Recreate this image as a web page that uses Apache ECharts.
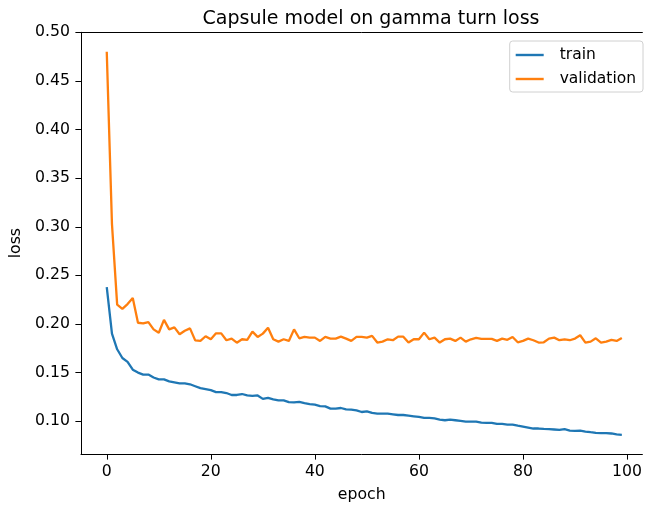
<!DOCTYPE html>
<html lang="en">
<head>
    <meta charset="UTF-8">
    <title>Capsule model on gamma turn loss</title>
    <script src="https://cdn.jsdelivr.net/npm/echarts@6/dist/echarts.min.js"></script>
    <style>
        html, body { margin: 0; padding: 0; height: 100%; overflow: hidden; background: #fff; }
        #chart { width: 645px; height: 508px; }
    </style>
</head>
<body>
    <div id="chart"></div>
    <script>
        // losses per epoch (index = epoch)
        var trainLoss = [
            0.238, 0.190, 0.174, 0.165, 0.161, 0.153, 0.150, 0.148, 0.148, 0.145,
            0.143, 0.143, 0.141, 0.140, 0.139, 0.139, 0.138, 0.136, 0.134, 0.133,
            0.132, 0.130, 0.130, 0.129, 0.127, 0.127, 0.128, 0.1265, 0.126, 0.1265,
            0.123, 0.124, 0.1225, 0.1215, 0.1215, 0.1197, 0.1194, 0.120, 0.1187, 0.1177,
            0.117, 0.1156, 0.1153, 0.113, 0.113, 0.1136, 0.1122, 0.1119, 0.1112, 0.1095,
            0.1102, 0.1085, 0.1078, 0.1078, 0.1078, 0.1071, 0.1064, 0.1064, 0.1058, 0.1051,
            0.1044, 0.1034, 0.1034, 0.1030, 0.1017, 0.1010, 0.1017, 0.1010, 0.1003, 0.0996,
            0.0996, 0.0996, 0.0986, 0.0983, 0.0983, 0.0972, 0.0972, 0.0966, 0.0966, 0.0955,
            0.0945, 0.0935, 0.0925, 0.0925, 0.0921, 0.0918, 0.0915, 0.0911, 0.0918, 0.0904,
            0.0901, 0.0904, 0.0894, 0.0887, 0.0881, 0.0877, 0.0877, 0.0874, 0.0864, 0.0860
        ];
        var validationLoss = [
            0.480, 0.303, 0.220, 0.2156, 0.2205, 0.2268, 0.2013, 0.2006, 0.202, 0.1945,
            0.191, 0.2042, 0.1945, 0.1965, 0.1894, 0.193, 0.1955, 0.1832, 0.1826, 0.1874,
            0.1843, 0.1904, 0.1904, 0.1833, 0.185, 0.1808, 0.1843, 0.1837, 0.1921, 0.1867,
            0.1901, 0.1962, 0.1843, 0.1819, 0.1843, 0.1826, 0.1945, 0.1853, 0.1867, 0.186,
            0.186, 0.1826, 0.1867, 0.185, 0.185, 0.187, 0.185, 0.1826, 0.1867, 0.1867,
            0.186, 0.1878, 0.1809, 0.1819, 0.1843, 0.1833, 0.187, 0.187, 0.1809, 0.1843,
            0.1843, 0.1911, 0.1843, 0.186, 0.1809, 0.1843, 0.185, 0.1826, 0.186, 0.1819,
            0.1843, 0.1857, 0.1847, 0.1847, 0.1847, 0.1826, 0.185, 0.1837, 0.1867, 0.1812,
            0.1826, 0.185, 0.1833, 0.1809, 0.1812, 0.185, 0.186, 0.1833, 0.1843, 0.1833,
            0.185, 0.1884, 0.1809, 0.1819, 0.1853, 0.1809, 0.1819, 0.1837, 0.1826, 0.1857
        ];
        var xTicks = [0, 20, 40, 60, 80, 100];
        var yTicks = [0.10, 0.15, 0.20, 0.25, 0.30, 0.35, 0.40, 0.45, 0.50];

        function pairs(arr) {
            return arr.map(function (v, i) { return [i, v]; });
        }

        var font = 'DejaVu Sans';
        var tickFont = { fontFamily: font, fontSize: 15.7, color: '#000' };
        var chart = echarts.init(document.getElementById('chart'));
        var option = {
            animation: false,
            backgroundColor: '#fff',
            title: {
                text: 'Capsule model on gamma turn loss',
                left: 366,
                top: 5,
                textAlign: 'center',
                textStyle: { fontFamily: font, fontSize: 19, fontWeight: 'normal', color: '#000' }
            },
            // the right spine falls just outside the picture
            grid: { left: 81, top: 32.3, right: 0, bottom: 51, containLabel: false },
            legend: {
                orient: 'vertical',
                right: 2,
                top: 41,
                padding: [6, 7, 5, 6],
                itemGap: 8,
                itemWidth: 28,
                itemHeight: 2.4,
                icon: 'rect',
                borderColor: '#d0d0d0',
                borderWidth: 1,
                borderRadius: 3,
                backgroundColor: 'rgba(255,255,255,0.8)',
                textStyle: { fontFamily: font, fontSize: 15.5, color: '#000', padding: [0, 0, 0, 11] },
                data: ['train', 'validation']
            },
            xAxis: [{
                type: 'value',
                min: -4.95,
                max: 102.95,
                name: 'epoch',
                nameLocation: 'middle',
                nameGap: 33,
                nameTextStyle: tickFont,
                splitLine: { show: false },
                axisLine: { onZero: false, lineStyle: { color: '#000', width: 1 } },
                axisTick: { length: 5.6, customValues: xTicks, lineStyle: { color: '#000' } },
                axisLabel: Object.assign({ customValues: xTicks, margin: 10 }, tickFont)
            }, {
                // top spine
                type: 'value',
                position: 'top',
                min: -4.95,
                max: 102.95,
                splitLine: { show: false },
                axisLine: { onZero: false, lineStyle: { color: '#000', width: 1 } },
                axisTick: { show: false },
                axisLabel: { show: false }
            }],
            yAxis: {
                type: 'value',
                min: 0.0663,
                max: 0.5,
                name: 'loss',
                nameLocation: 'middle',
                nameGap: 49,
                nameTextStyle: tickFont,
                splitLine: { show: false },
                axisLine: { show: true, onZero: false, lineStyle: { color: '#000', width: 1 } },
                axisTick: { show: true, length: 5.6, customValues: yTicks, lineStyle: { color: '#000' } },
                axisLabel: Object.assign({
                    customValues: yTicks,
                    margin: 11,
                    formatter: function (v) { return v.toFixed(2); }
                }, tickFont)
            },
            series: [{
                name: 'train',
                type: 'line',
                data: pairs(trainLoss),
                showSymbol: false,
                color: '#1f77b4',
                lineStyle: { width: 2.3, color: '#1f77b4' }
            }, {
                name: 'validation',
                type: 'line',
                data: pairs(validationLoss),
                showSymbol: false,
                color: '#ff7f0e',
                lineStyle: { width: 2.3, color: '#ff7f0e' }
            }]
        };
        chart.setOption(option);
    </script>
</body>
</html>
